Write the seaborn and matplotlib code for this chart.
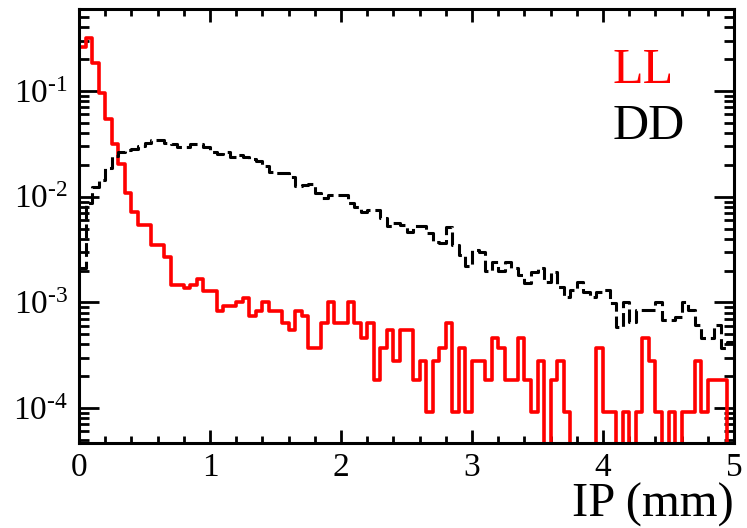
import numpy as np
import pandas as pd
import matplotlib
matplotlib.use("Agg")
import matplotlib.pyplot as plt
import seaborn as sns
from matplotlib.ticker import LogLocator, NullFormatter, MultipleLocator, FixedLocator, FixedFormatter

# ---------------- data ----------------
ip_range = (0.0, 5.0)
n_bins = 100

ll_values = [
    0.2624, 0.3150, 0.1828, 0.0964, 0.0540, 0.0313, 0.0203, 0.01092, 0.00717, 0.00540,
    0.00540, 0.00349, 0.00349, 0.00271, 0.001472, 0.001472, 0.00138, 0.001472, 0.001656, 0.001288,
    0.001288, 0.000828, 0.00092, 0.00092, 0.001012, 0.001104, 0.000736, 0.000828, 0.001012, 0.000828,
    0.000828, 0.000644, 0.000552, 0.000828, 0.000736, 0.000368, 0.000368, 0.000644, 0.001012, 0.000644,
    0.000644, 0.001012, 0.000644, 0.00046, 0.000644, 0.000184, 0.000368, 0.000552, 0.000276, 0.000552,
    0.000552, 0.000184, 0.000276, 0.000092, 0.000276, 0.000368, 0.000644, 0.000092, 0.000368, 0.000092,
    0.000276, 0.000276, 0.000184, 0.00046, 0.000368, 0.000184, 0.000184, 0.00046, 0.000184, 0.000092,
    0.000276, 0.0, 0.000184, 0.000276, 0.000092, 0.0, 0.0, 0.0, 0.0, 0.000368,
    0.000092, 0.000092, 0.0, 0.000092, 0.0, 0.000092, 0.00046, 0.000276, 0.000092, 0.0,
    0.000092, 0.0, 0.000092, 0.000092, 0.000276, 0.000092, 0.000184, 0.000184, 0.000184, 0.0,
]

dd_values = [
    0.002115, 0.00872, 0.01235, 0.01439, 0.01868, 0.02428, 0.02665, 0.02736, 0.02796, 0.02985,
    0.03221, 0.03438, 0.03438, 0.03200, 0.03151, 0.02953, 0.02972, 0.03130, 0.03130, 0.02972,
    0.02665, 0.02519, 0.02665, 0.02390, 0.02480, 0.02375, 0.02274, 0.02153, 0.01952, 0.01694,
    0.01687, 0.01687, 0.01536, 0.01262, 0.01290, 0.01319, 0.01084, 0.00966, 0.01038, 0.01038,
    0.01038, 0.00872, 0.00799, 0.00716, 0.00748, 0.00748, 0.00633, 0.00528, 0.00560, 0.00540,
    0.00463, 0.00528, 0.00528, 0.00453, 0.00373, 0.00365, 0.00517, 0.00349, 0.00281, 0.00221,
    0.00313, 0.00300, 0.00198, 0.00241, 0.00198, 0.00241, 0.002115, 0.001816, 0.001526, 0.00194,
    0.002115, 0.00156, 0.00194, 0.001398, 0.001125, 0.00131, 0.00156, 0.001254, 0.001125, 0.001254,
    0.00131, 0.000987, 0.000585, 0.001009, 0.000653, 0.000848, 0.000848, 0.000848, 0.001009, 0.000682,
    0.000682, 0.000728, 0.001009, 0.000848, 0.000611, 0.00046, 0.00046, 0.000611, 0.00037, 0.000422,
]

x_tick_values = [0, 1, 2, 3, 4, 5]
x_tick_labels = ["0", "1", "2", "3", "4", "5"]
y_tick_values = [1e-4, 1e-3, 1e-2, 1e-1]
y_tick_labels = ["$10^{\u2010 4}$", "$10^{\u2010 3}$", "$10^{\u2010 2}$", "$10^{\u2010 1}$"]
series_labels = ["LL", "DD"]
x_label = "IP (mm)"

# ---------------- style ----------------
sns.set_style("ticks")
plt.rcParams["font.family"] = ["Liberation Serif", "DejaVu Serif"]
plt.rcParams["mathtext.fontset"] = "custom"
plt.rcParams["mathtext.rm"] = "Liberation Serif"
plt.rcParams["mathtext.it"] = "Liberation Serif:italic"
plt.rcParams["mathtext.bf"] = "Liberation Serif:bold"
plt.rcParams["text.color"] = "black"

W, H = 747, 528
fig = plt.figure(figsize=(W / 100, H / 100), dpi=100)
ax = fig.add_axes([79 / W, 1 - 443 / H, (734 - 79) / W, (443 - 9) / H])

edges = np.linspace(ip_range[0], ip_range[1], n_bins + 1)
centers = 0.5 * (edges[:-1] + edges[1:])
df_ll = pd.DataFrame({"ip": centers, "frac": ll_values})
df_dd = pd.DataFrame({"ip": centers, "frac": dd_values})

sns.histplot(data=df_ll, x="ip", weights="frac", bins=n_bins, binrange=ip_range,
             element="step", fill=False, color="#ff0000", linewidth=2.6, ax=ax)
sns.histplot(data=df_dd, x="ip", weights="frac", bins=n_bins, binrange=ip_range,
             element="step", fill=False, color="black", linewidth=2.2,
             linestyle=(0, (4.5, 1.6)), ax=ax)

ax.set_yscale("log")
ax.set_xlim(*ip_range)
ax.set_ylim(4.67e-5, 0.597)
ax.set_xlabel("")
ax.set_ylabel("")

ax.xaxis.set_major_locator(FixedLocator(x_tick_values))
ax.xaxis.set_major_formatter(FixedFormatter(x_tick_labels))
ax.xaxis.set_minor_locator(MultipleLocator(0.2))
ax.yaxis.set_major_locator(FixedLocator(y_tick_values))
ax.yaxis.set_major_formatter(FixedFormatter(y_tick_labels))
ax.yaxis.set_minor_locator(LogLocator(base=10, subs=np.arange(2, 10)))
ax.yaxis.set_minor_formatter(NullFormatter())

for s in ax.spines.values():
    s.set_linewidth(2.2)
    s.set_color("black")

ax.tick_params(which="both", direction="in", top=True, right=True, width=2.0,
               color="black", labelcolor="black")
ax.tick_params(axis="x", which="major", length=9.5, labelsize=24, pad=7)
ax.tick_params(axis="x", which="minor", length=4.8)
ax.tick_params(axis="y", which="major", length=14.5, labelsize=24, pad=8)
ax.tick_params(axis="y", which="minor", length=7.2)

fig.text(613 / W, 1 - 83 / H, series_labels[0], color="#ff0000", fontsize=36,
         ha="left", va="baseline")
fig.text(613 / W, 1 - 139 / H, series_labels[1], color="black", fontsize=36,
         ha="left", va="baseline")
fig.text(734 / W, 1 - 517 / H, x_label, color="black", fontsize=35,
         ha="right", va="baseline")

fig.savefig("out.png", dpi=100)
